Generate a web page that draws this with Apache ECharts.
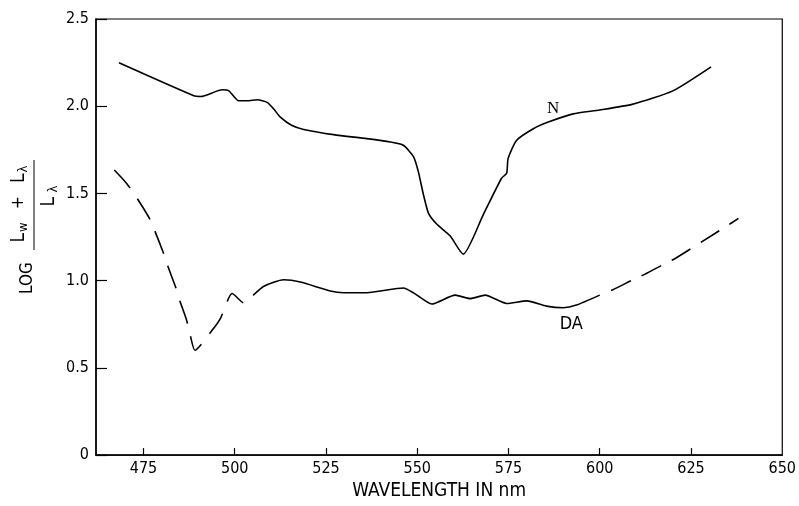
<!DOCTYPE html>
<html>
<head>
<meta charset="utf-8">
<script src="https://cdn.jsdelivr.net/npm/echarts@6/dist/echarts.min.js"></script>
<style>
html,body{margin:0;padding:0;background:#fff;}
#c{width:799px;height:506px;}
</style>
</head>
<body>
<div id="c"></div>
<script>
// ---- data ----
const nWave  = [468.3, 488.8, 490.7, 496.6, 498.4, 501.1, 503.4, 506.2, 508.9, 510.7, 512.5, 515.7, 518.9, 527.1, 536.2, 542.6, 546.2, 549.0, 550.3, 551.7, 553.1, 555.4, 559.0, 562.6, 568.1, 573.1, 574.5, 574.9, 577.2, 581.8, 585.9, 592.7, 600.0, 609.1, 620.0, 630.5];
const nValue = [2.249, 2.060, 2.056, 2.094, 2.088, 2.031, 2.031, 2.037, 2.022, 1.984, 1.937, 1.889, 1.867, 1.837, 1.814, 1.795, 1.776, 1.710, 1.625, 1.493, 1.386, 1.323, 1.257, 1.152, 1.379, 1.587, 1.616, 1.701, 1.804, 1.871, 1.909, 1.956, 1.978, 2.012, 2.088, 2.226];

const daWave  = [467.0, 469.7, 472.0, 475.2, 477.0, 480.6, 481.6, 483.8, 484.9, 486.8, 487.7, 489.1, 493.9, 496.1, 499.3, 502.7, 505.1, 508.0, 513.4, 518.0, 526.2, 529.8, 536.2, 546.2, 549.0, 554.0, 560.4, 564.5, 568.6, 574.5, 580.0, 585.4, 590.0, 593.6, 600.0, 603.6, 609.1, 612.3, 617.7, 620.9, 630.9, 634.1, 638.0];
const daValue = [1.634, 1.574, 1.512, 1.408, 1.342, 1.152, 1.087, 0.964, 0.888, 0.775, 0.699, 0.601, 0.718, 0.784, 0.926, 0.869, 0.917, 0.968, 1.005, 0.992, 0.941, 0.931, 0.931, 0.958, 0.930, 0.866, 0.917, 0.897, 0.917, 0.869, 0.884, 0.854, 0.845, 0.860, 0.917, 0.948, 1.005, 1.036, 1.096, 1.130, 1.262, 1.304, 1.357];

// DA curve is dashed outside this solid stretch
const daSolidFrom = 505.1;
const daSolidTo   = 600.0;

const xTickValues  = [475, 500, 525, 550, 575, 600, 625];
const xLabelValues = [475, 500, 525, 550, 575, 600, 625, 650];
const xMin = 462, xMax = 650;
const yMin = 0, yMax = 2.5, yStep = 0.5;

const nLabel  = {text: 'N',  wave: 587.2, value: 1.984};
const daLabel = {text: 'DA', wave: 592.2, value: 0.747};

// ---- build ----
const pairs = (xs, ys) => xs.map((x, i) => [x, ys[i]]);
const nData = pairs(nWave, nValue);
const daAll = pairs(daWave, daValue);
const daLeft  = daAll.filter(p => p[0] <= daSolidFrom);
const daMid   = daAll.filter(p => p[0] >= daSolidFrom && p[0] <= daSolidTo);
const daRight = daAll.filter(p => p[0] >= daSolidTo);

const FONT = "'Liberation Sans Narrow','DejaVu Sans Condensed','Liberation Sans',sans-serif";
const lineBase = {type: 'line', showSymbol: false, smooth: 0.2, silent: true,
  lineStyle: {color: '#000', width: 1.6}};

const rich = {
  l: {fontFamily: FONT, fontSize: 19, fill: '#000'},
  p: {fontFamily: FONT, fontSize: 17, fill: '#000'},
  s: {fontFamily: FONT, fontSize: 13, fill: '#000', padding: [9, 0, 0, 1]}
};

const chart = echarts.init(document.getElementById('c'), null, {renderer: 'canvas'});
chart.setOption({
  animation: false,
  backgroundColor: '#fff',
  grid: {left: 96, right: 16, top: 19, bottom: 46, show: true, borderColor: '#000', borderWidth: 1.2, backgroundColor: 'transparent'},
  xAxis: {
    type: 'value', min: xMin, max: xMax,
    name: 'WAVELENGTH IN nm', nameLocation: 'middle', nameGap: 20,
    nameTextStyle: {fontFamily: FONT, fontSize: 19, color: '#000'},
    axisLine: {show: true, lineStyle: {color: '#000', width: 1.5}},
    axisTick: {show: true, inside: true, length: 7, customValues: xTickValues, lineStyle: {color: '#000', width: 1.2}},
    axisLabel: {customValues: xLabelValues, fontFamily: FONT, fontSize: 16, color: '#000', margin: 6},
    splitLine: {show: false}
  },
  yAxis: {
    type: 'value', min: yMin, max: yMax, interval: yStep,
    axisLine: {show: true, lineStyle: {color: '#000', width: 1.5}},
    axisTick: {show: true, inside: true, length: 11, lineStyle: {color: '#000', width: 1.2}},
    axisLabel: {fontFamily: FONT, fontSize: 16, color: '#000', margin: 7,
      formatter: v => v === 0 ? '0' : v.toFixed(1)},
    splitLine: {show: false}
  },
  graphic: [{
    type: 'group', x: 34, y: 250, rotation: Math.PI / 2, silent: true,
    children: [
      {type: 'line', shape: {x1: 0, y1: 0, x2: 90, y2: 0}, style: {stroke: '#000', lineWidth: 1}},
      {type: 'text', x: 46, y: -4, style: {
        text: '{l|L}{s|w}    {p|+}    {l|L}{s|λ}', align: 'center', verticalAlign: 'bottom', rich: rich
      }},
      {type: 'text', x: 54, y: 4, style: {
        text: '{l|L} {s|λ}', align: 'center', verticalAlign: 'top', rich: rich
      }},
      {type: 'text', x: -28, y: -6, style: {text: 'LOG', align: 'center', verticalAlign: 'middle', fontFamily: FONT, fontSize: 17, fill: '#000'}}
    ]
  }],
  series: [
    Object.assign({}, lineBase, {name: 'N', data: nData,
      markPoint: {symbol: 'circle', symbolSize: 0, silent: true,
        label: {show: true, position: 'inside', formatter: nLabel.text, fontFamily: "'Liberation Serif',serif", fontSize: 17, color: '#000'},
        data: [{coord: [nLabel.wave, nLabel.value]}]}}),
    Object.assign({}, lineBase, {name: 'DA left', data: daLeft, lineStyle: {color: '#000', width: 1.6, type: [24, 13]}}),
    Object.assign({}, lineBase, {name: 'DA', data: daMid,
      markPoint: {symbol: 'circle', symbolSize: 0, silent: true,
        label: {show: true, position: 'inside', formatter: daLabel.text, fontFamily: FONT, fontSize: 18, color: '#000'},
        data: [{coord: [daLabel.wave, daLabel.value]}]}}),
    Object.assign({}, lineBase, {name: 'DA right', data: daRight, lineStyle: {color: '#000', width: 1.6, type: [22, 12], dashOffset: 22}})
  ]
});
</script>
</body>
</html>
